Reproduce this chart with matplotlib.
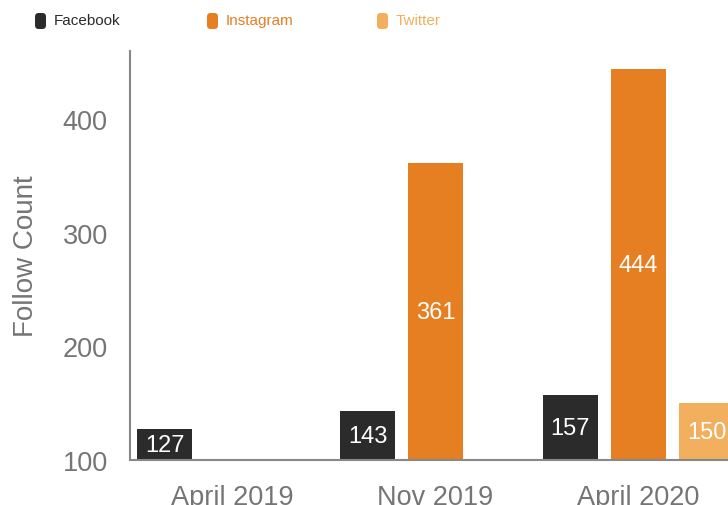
import numpy as np
import matplotlib
matplotlib.use("Agg")
import matplotlib.pyplot as plt
from matplotlib.patches import FancyBboxPatch

categories = ["April 2019", "Nov 2019", "April 2020"]
series_names = ["Facebook", "Instagram", "Twitter"]
facebook = [127, 143, 157]
instagram = [np.nan, 361, 444]
twitter = [np.nan, np.nan, 150]
yticks = [100, 200, 300, 400]

colors = ["#2b2b2b", "#e67e22", "#f2b05e"]
legend_text_colors = ["#2b2b2b", "#e67e22", "#f2b05e"]

plt.rcParams["font.family"] = ["Liberation Sans", "DejaVu Sans"]

fig = plt.figure(figsize=(7.28, 5.06), dpi=100)
ax = fig.add_axes([130 / 728, 45 / 506, 611 / 728, 409 / 506])

x = np.arange(len(categories))
width = 0.271
step = 0.335
all_series = [facebook, instagram, twitter]
for i, (vals, c) in enumerate(zip(all_series, colors)):
    xs = x + (i - 1) * step
    ax.bar(xs, vals, width=width, color=c, zorder=2)
    for xi, v in zip(xs, vals):
        if not np.isnan(v):
            ax.text(xi, (100 + v) / 2, f"{int(v)}", ha="center", va="center",
                    color="white", fontsize=17, zorder=3)

ax.set_xlim(-0.505, 2.505)
ax.set_ylim(100, 460)
ax.set_yticks(yticks)
ax.set_xticks(x)
ax.set_xticklabels(categories)
ax.tick_params(axis="both", length=0, labelsize=19.5, labelcolor="#757575")
ax.tick_params(axis="y", pad=16)
ax.tick_params(axis="x", pad=17.5)
ax.set_ylabel("Follow Count", fontsize=20, color="#757575", labelpad=17)

for s in ["top", "right"]:
    ax.spines[s].set_visible(False)
for s in ["left", "bottom"]:
    ax.spines[s].set_color("#888888")
    ax.spines[s].set_linewidth(1.5)

# legend
leg_x = [35, 207, 377]
for lx, name, c, tc in zip(leg_x, series_names, colors, legend_text_colors):
    w, h = 11 / 728, 16 / 506
    patch = FancyBboxPatch((lx / 728, 1 - 30 / 506), w, h,
                           boxstyle="round,pad=0,rounding_size=0.005",
                           transform=fig.transFigure, facecolor=c, edgecolor="none",
                           mutation_aspect=728 / 506)
    fig.patches.append(patch)
    fig.text((lx + 19) / 728, 1 - 21 / 506, name, color=tc, fontsize=11,
             ha="left", va="center")

fig.savefig("out.png", dpi=100)
